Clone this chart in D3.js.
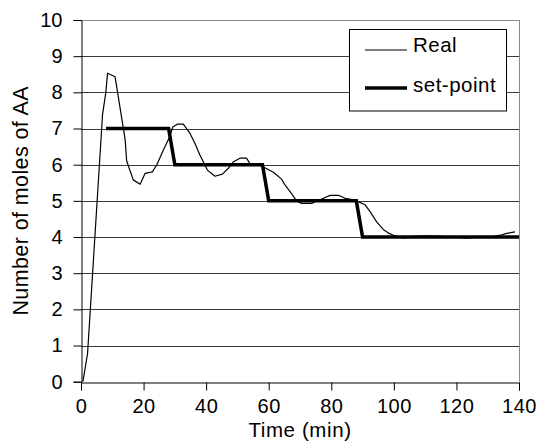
<!DOCTYPE html>
<html><head><meta charset="utf-8">
<script src="https://cdn.jsdelivr.net/npm/d3@7"></script>
<style>
body{margin:0;background:#fff;}
text{font-family:"Liberation Sans",Arial,sans-serif;fill:#000;}
</style></head>
<body>
<svg id="c" width="537" height="443"></svg>
<script>
// Data
const realTime = [0.6,2.1,6.9,7.9,8.5,10.9,14.1,14.6,16.7,18.9,20.5,22.8,24.2,26.3,28.4,29.3,30.8,32.7,34.8,36.4,38.0,40.4,42.8,45.2,47.1,48.7,50.8,52.9,54.0,57.5,61.5,64.1,65.2,67.3,68.9,70.5,73.7,76.4,79.6,82.5,84.4,87.6,90.8,92.4,94.5,96.6,98.5,100.4,103,106,110,115,119,123,127,131,134,136.1,138.7];
const realValue = [0,0.78,7.4,7.97,8.53,8.43,6.7,6.1,5.58,5.46,5.76,5.8,5.99,6.4,6.78,7.04,7.12,7.12,6.87,6.59,6.27,5.85,5.68,5.74,5.9,6.08,6.18,6.18,6.03,5.97,5.79,5.6,5.44,5.2,5.0,4.93,4.93,5.03,5.15,5.15,5.07,5.02,4.89,4.70,4.42,4.21,4.10,4.03,3.97,4.02,4.03,4.02,4.0,3.97,4.0,4.0,4.05,4.10,4.14];
const setTime = [8,28,30,58,60,88,90,140];
const setValue = [7,7,6,6,5,5,4,4];
const xTicks = [0,20,40,60,80,100,120,140];
const yTicks = [0,1,2,3,4,5,6,7,8,9,10];
const seriesNames = ["Real","set-point"];

const svg = d3.select("#c");
const x = d3.scaleLinear().domain([0,140]).range([81,519]);
const y = d3.scaleLinear().domain([0,10]).range([381.7,20]);
const FONT = "Liberation Sans, Arial, sans-serif";

// gridlines
svg.append("g").selectAll("line").data(yTicks.filter(d=>d>0&&d<10)).join("line")
  .attr("x1",x(0)).attr("x2",x(140)).attr("y1",d=>Math.round(y(d))+0.5).attr("y2",d=>Math.round(y(d))+0.5)
  .attr("stroke","#3a3a3a").attr("stroke-width",1);
// top and right border
svg.append("line").attr("x1",x(0)).attr("x2",x(140)+0.5).attr("y1",Math.round(y(10))+0.5).attr("y2",Math.round(y(10))+0.5).attr("stroke","#8a8a8a");
svg.append("line").attr("x1",Math.round(x(140))+0.5).attr("x2",Math.round(x(140))+0.5).attr("y1",y(10)).attr("y2",y(0)).attr("stroke","#8a8a8a");

// axes
const yAxis = d3.axisLeft(y).tickValues(yTicks).tickSize(8).tickPadding(11).tickFormat(d3.format("d"));
const gy = svg.append("g").attr("transform",`translate(${Math.round(x(0))+0.5},0)`).call(yAxis);
gy.select(".domain").attr("stroke","#000");
gy.selectAll(".tick line").attr("stroke","#000");
gy.selectAll("text").attr("font-size",20).attr("font-family",FONT);

const xAxis = d3.axisBottom(x).tickValues(xTicks).tickSize(8).tickPadding(8).tickFormat(d3.format("d"));
const gx = svg.append("g").attr("transform",`translate(0,${Math.round(y(0))+0.5})`).call(xAxis);
gx.select(".domain").attr("stroke","#000");
gx.selectAll(".tick line").attr("stroke","#000");
gx.selectAll("text").attr("font-size",20).attr("font-family",FONT).attr("letter-spacing",0.5);

// lines
const line = d3.line().x(d=>x(d[0])).y(d=>y(d[1]));
const realData = realTime.map((t,i)=>[t,realValue[i]]);
const setData = setTime.map((t,i)=>[t,setValue[i]]);
svg.append("path").datum(realData).attr("d",line).attr("fill","none").attr("stroke","#000").attr("stroke-width",1.2).attr("stroke-linejoin","round");
svg.append("path").datum(setData).attr("d",line).attr("fill","none").attr("stroke","#000").attr("stroke-width",3.5);

// axis titles
svg.append("text").attr("x",(x(0)+x(140))/2).attr("y",437).attr("text-anchor","middle").attr("font-size",20.5).attr("letter-spacing",0.6).text("Time (min)");
svg.append("text").attr("transform",`translate(28,${(y(0)+y(10))/2}) rotate(-90)`).attr("text-anchor","middle").attr("font-size",21.5).attr("letter-spacing",0.4).text("Number of moles of AA");

// legend
const lg = svg.append("g");
lg.append("rect").attr("x",349.5).attr("y",29.5).attr("width",157).attr("height",81.5).attr("fill","#fff").attr("stroke","#000").attr("stroke-width",1);
const legY = [50,88], legW=[1.2,3.5];
seriesNames.forEach((n,i)=>{
  lg.append("line").attr("x1",365).attr("x2",407).attr("y1",legY[i]).attr("y2",legY[i]).attr("stroke","#000").attr("stroke-width",legW[i]);
  lg.append("text").attr("x",413).attr("y",legY[i]+(i===0?2:4)).attr("font-size",20.5).attr("letter-spacing",0.5).text(n);
});
</script>
</body></html>
